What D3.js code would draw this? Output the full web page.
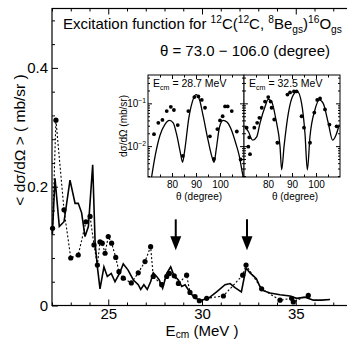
<!DOCTYPE html>
<html>
<head>
<meta charset="utf-8">
<script src="https://cdn.jsdelivr.net/npm/d3@7/dist/d3.min.js"></script>
<style>
  html, body { margin: 0; padding: 0; background: #fff; }
  svg { display: block; }
  text { font-family: "Liberation Sans", Arial, Helvetica, sans-serif; fill: #000; }
</style>
</head>
<body>
<svg id="chart" width="347" height="339"></svg>
<script>
// ---- Excitation function: calculated curve (solid) ----
const calcE = [22.02, 22.16, 22.39, 22.64, 22.96, 23.23, 23.4, 23.58, 23.76, 23.94, 24.17, 24.3, 24.42, 24.56,
  24.77, 24.95, 25.16, 25.36, 25.6, 25.8, 26.05, 26.34, 26.6, 26.73, 26.9, 27.08, 27.26, 27.4, 27.58, 27.72,
  27.9, 28.12, 28.33, 28.5, 28.74, 28.92, 29.1, 29.36, 29.63, 29.98, 30.34, 30.78, 31.23, 31.5, 31.76, 32.1,
  32.35, 32.56, 32.77, 32.9, 33.09, 33.27, 33.63, 34.16, 34.69, 35.05, 35.5, 35.94, 36.38, 36.83];
const calcV = [0.12, 0.214, 0.133, 0.141, 0.211, 0.172, 0.172, 0.156, 0.116, 0.133, 0.237, 0.105, 0.065, 0.028,
  0.065, 0.049, 0.054, 0.040, 0.054, 0.070, 0.060, 0.043, 0.035, 0.027, 0.035, 0.027, 0.040, 0.055, 0.049, 0.043,
  0.029, 0.054, 0.065, 0.051, 0.043, 0.032, 0.035, 0.022, 0.012, 0.009, 0.012, 0.023, 0.035, 0.037, 0.030, 0.023,
  0.063, 0.055, 0.049, 0.045, 0.032, 0.025, 0.021, 0.018, 0.016, 0.012, 0.014, 0.009, 0.009, 0.010];

// ---- Excitation function: measured points (dotted) ----
const expE = [22.03, 22.21, 22.64, 23.0, 23.4, 23.81, 24.03, 24.24, 24.42, 24.56, 24.68, 24.83, 25.0, 25.18,
  25.4, 25.57, 25.8, 26.23, 26.6, 26.96, 27.26, 27.4, 27.85, 28.12, 28.26, 28.52, 28.74, 29.18, 29.36, 29.63,
  29.86, 30.25, 31.14, 32.17, 32.35, 33.18, 34.16, 34.78, 34.87, 35.67];
const expV = [0.13, 0.312, 0.161, 0.08, 0.085, 0.141, 0.15, 0.102, 0.068, 0.107, 0.105, 0.088, 0.116, 0.105,
  0.081, 0.057, 0.046, 0.038, 0.055, 0.074, 0.099, 0.049, 0.035, 0.049, 0.054, 0.05, 0.037, 0.051, 0.022, 0.015,
  0.008, 0.012, 0.016, 0.051, 0.068, 0.028, 0.009, 0.012, 0.006, 0.017];

// Energies marked with arrows (angular distributions shown in the inset)
const markE = [28.6, 32.4];

// Axis ticks
const xMajor = [25, 30, 35];
const yMajor = [0, 0.2, 0.4];

// ---- Angular distributions (inset) ----
const panelLabels = ["28.7", "32.5"];
const angTicks = [80, 90, 100];

const fit1T = [71.5, 73, 75, 77, 79, 80.5, 82, 83.5, 84.4, 85.3, 87, 88.5, 90, 91.5, 93, 95, 96.5, 97.5, 98.5,
  99.8, 101.3, 103, 105, 106.5, 108, 109, 109.8];
const fit1S = [0.0019, 0.006, 0.018, 0.032, 0.04, 0.035, 0.018, 0.007, 0.0042, 0.008, 0.045, 0.11, 0.16, 0.12,
  0.05, 0.014, 0.006, 0.0042, 0.009, 0.028, 0.04, 0.036, 0.022, 0.012, 0.006, 0.003, 0.0017];
const dat1T = [72.5, 74.3, 76, 77.8, 79.5, 80.8, 82.4, 84.5, 86.8, 89.3, 91, 92.4, 93.75, 95.8, 97.5, 98.9, 100,
  101.1, 102.1, 103.2, 104.9, 107, 108.6];
const dat1S = [0.019, 0.035, 0.041, 0.066, 0.083, 0.07, 0.031, 0.0059, 0.066, 0.14, 0.145, 0.12, 0.079, 0.017,
  0.005, 0.025, 0.04, 0.05, 0.085, 0.085, 0.066, 0.022, 0.0049];

const fit2T = [70.4, 71.8, 73.6, 75.3, 76.7, 78.75, 80.1, 81.5, 83.3, 85, 85.7, 86.7, 88.5, 90.6, 92.2, 94, 95.4,
  96.4, 97.5, 99.6, 101.4, 103, 105.1, 106.9, 108.3, 109.7];
const fit2S = [0.028, 0.022, 0.0138, 0.0165, 0.035, 0.083, 0.124, 0.11, 0.042, 0.01, 0.0028, 0.01, 0.06, 0.16,
  0.19, 0.1, 0.02, 0.0028, 0.017, 0.072, 0.12, 0.1, 0.035, 0.0138, 0.018, 0.032];
const dat2T = [71.1, 71.8, 72.2, 72.5, 74.3, 75.5, 76.4, 77.4, 78.75, 80.1, 81.1, 81.5, 82.6, 83.9, 88.1, 89.2,
  90.8, 91.9, 94, 95, 97.5, 99.3, 100.5, 101.7, 103.75, 105.6, 108.6];
const dat2S = [0.027, 0.0097, 0.016, 0.0065, 0.027, 0.035, 0.046, 0.079, 0.11, 0.14, 0.11, 0.079, 0.042, 0.012,
  0.16, 0.18, 0.19, 0.19, 0.05, 0.027, 0.012, 0.061, 0.12, 0.13, 0.072, 0.032, 0.029];

const svg = d3.select("#chart");

// ---------- main frame ----------
const x = d3.scaleLinear().domain([22, 38]).range([52, 352]);
const y = d3.scaleLinear().domain([0, 0.5]).range([305.5, 8.5]);

const xMinor = d3.range(22, 39, 1).filter(v => !xMajor.includes(v));
const yMinor = d3.range(0, 0.5001, 0.04).filter(v => !yMajor.some(m => Math.abs(m - v) < 1e-6));

function tickGroup(g) {
  g.selectAll(".domain").remove();
  g.selectAll("line").attr("stroke", "#000").attr("stroke-width", 1);
}

// Bottom axis (ticks point inward)
const gx = svg.append("g").attr("transform", `translate(0,${y(0)})`)
  .call(d3.axisBottom(x).tickValues(xMajor).tickSizeInner(-6).tickSizeOuter(0).tickPadding(2.5)
    .tickFormat(d3.format("d")));
tickGroup(gx);
gx.selectAll("text").attr("font-size", 15);
svg.append("g").attr("transform", `translate(0,${y(0)})`)
  .call(d3.axisBottom(x).tickValues(xMinor).tickSizeInner(-3).tickSizeOuter(0).tickFormat(""))
  .call(tickGroup);

// Top axis
svg.append("g").attr("transform", `translate(0,${y(0.5)})`)
  .call(d3.axisTop(x).tickValues(xMajor).tickSizeInner(-6).tickSizeOuter(0).tickFormat(""))
  .call(tickGroup);
svg.append("g").attr("transform", `translate(0,${y(0.5)})`)
  .call(d3.axisTop(x).tickValues(xMinor).tickSizeInner(-3).tickSizeOuter(0).tickFormat(""))
  .call(tickGroup);

// Left axis
const gy = svg.append("g").attr("transform", `translate(${x(22)},0)`)
  .call(d3.axisLeft(y).tickValues(yMajor).tickSizeInner(-6).tickSizeOuter(0).tickPadding(4)
    .tickFormat(d => d === 0 ? "0" : d3.format(".1f")(d)));
tickGroup(gy);
gy.selectAll("text").attr("font-size", 15);
svg.append("g").attr("transform", `translate(${x(22)},0)`)
  .call(d3.axisLeft(y).tickValues(yMinor).tickSizeInner(-3).tickSizeOuter(0).tickFormat(""))
  .call(tickGroup);

// Frame
svg.append("rect")
  .attr("x", x(22)).attr("y", y(0.5))
  .attr("width", x(38) - x(22)).attr("height", y(0) - y(0.5))
  .attr("fill", "none").attr("stroke", "#000").attr("stroke-width", 1.2);

// ---------- series ----------
const calc = calcE.map((e, i) => [e, calcV[i]]);
const meas = expE.map((e, i) => [e, expV[i]]);

const line = d3.line().x(d => x(d[0])).y(d => y(d[1]));

svg.append("path").datum(meas)
  .attr("d", line).attr("fill", "none")
  .attr("stroke", "#000").attr("stroke-width", 1.1).attr("stroke-dasharray", "2,2");

svg.append("path").datum(calc)
  .attr("d", line).attr("fill", "none")
  .attr("stroke", "#000").attr("stroke-width", 1.6).attr("stroke-linejoin", "miter");

svg.append("g").selectAll("circle").data(meas).join("circle")
  .attr("cx", d => x(d[0])).attr("cy", d => y(d[1])).attr("r", 2.6).attr("fill", "#000");

// Arrows
const arrows = svg.append("g");
markE.forEach(e => {
  const ax = x(e), y0 = y(0.145), yTip = y(0.093);
  arrows.append("line").attr("x1", ax).attr("x2", ax).attr("y1", y0).attr("y2", yTip - 12)
    .attr("stroke", "#000").attr("stroke-width", 2);
  arrows.append("path")
    .attr("d", `M${ax - 5.5},${yTip - 14}L${ax + 5.5},${yTip - 14}L${ax},${yTip}Z`)
    .attr("fill", "#000");
});

// ---------- text helpers ----------
function richText(parent, segs, fs, subShift = 0.25) {
  const off = k => k === "sup" ? -fs * 0.4 : k === "sub" ? fs * subShift : 0;
  let state = null;
  segs.forEach(([t, k]) => {
    const ts = parent.append("tspan").text(t);
    const dy = off(k) - off(state);
    if (dy !== 0) ts.attr("dy", dy);
    ts.attr("font-size", k ? fs * 0.68 : fs);
    state = k;
  });
}

// Title
const title = svg.append("text").attr("x", 63).attr("y", 29);
richText(title, [["Excitation function for "], ["12", "sup"], ["C("], ["12", "sup"], ["C, "], ["8", "sup"],
  ["Be"], ["gs", "sub"], [")"], ["16", "sup"], ["O"], ["gs", "sub"]], 15);

svg.append("text").attr("x", 245).attr("y", 56).attr("text-anchor", "middle").attr("font-size", 15)
  .text("θ = 73.0 − 106.0 (degree)");

// Axis titles
const xt = svg.append("text").attr("x", 202).attr("y", 335.5).attr("text-anchor", "middle");
richText(xt, [["E"], ["cm", "sub"], [" (MeV )"]], 15, 0.17);

svg.append("text").attr("transform", "translate(25,140) rotate(-90)")
  .attr("text-anchor", "middle").attr("font-size", 15.5)
  .text("< dσ/dΩ > ( mb/sr )");

// ---------- inset ----------
const insetTop = 75, insetBot = 177;
const panels = [
  { x0: 148, x1: 244, label: panelLabels[0], fT: fit1T, fS: fit1S, dT: dat1T, dS: dat1S },
  { x0: 244, x1: 340, label: panelLabels[1], fT: fit2T, fS: fit2S, dT: dat2T, dS: dat2S }
];
const yI = d3.scaleLog().domain([0.0019, 0.46]).range([insetBot, insetTop]);
const logMinor = [];
[0.001, 0.01, 0.1].forEach(dec => { for (let k = 2; k <= 9; k++) { const v = dec * k; if (v > 0.0019 && v < 0.46) logMinor.push(v); } });
const logMajor = [0.01, 0.1];

const defs = svg.append("defs");

panels.forEach((p, i) => {
  const xs = d3.scaleLinear().domain([70, 110]).range([p.x0, p.x1]);
  const g = svg.append("g");
  g.append("rect").attr("x", p.x0).attr("y", insetTop).attr("width", p.x1 - p.x0).attr("height", insetBot - insetTop)
    .attr("fill", "#fff");

  defs.append("clipPath").attr("id", "clip" + i).append("rect")
    .attr("x", p.x0).attr("y", insetTop).attr("width", p.x1 - p.x0).attr("height", insetBot - insetTop);

  const fit = p.fT.map((t, j) => [t, p.fS[j]]);
  const dat = p.dT.map((t, j) => [t, p.dS[j]]);
  g.append("path").datum(fit).attr("clip-path", `url(#clip${i})`)
    .attr("d", d3.line().x(d => xs(d[0])).y(d => yI(d[1])).curve(d3.curveMonotoneX))
    .attr("fill", "none").attr("stroke", "#000").attr("stroke-width", 1.3);
  g.selectAll("circle").data(dat).join("circle")
    .attr("cx", d => xs(d[0])).attr("cy", d => yI(d[1])).attr("r", 1.9).attr("fill", "#000");

  // ticks: bottom/top
  const tx = g.append("g").attr("transform", `translate(0,${insetBot})`)
    .call(d3.axisBottom(xs).tickValues(angTicks).tickSizeInner(-4).tickSizeOuter(0).tickPadding(4));
  tickGroup(tx);
  tx.selectAll("text").attr("font-size", 10);
  g.append("g").attr("transform", `translate(0,${insetBot})`)
    .call(d3.axisBottom(xs).tickValues([75, 85, 95, 105]).tickSizeInner(-2.5).tickSizeOuter(0).tickFormat(""))
    .call(tickGroup);
  g.append("g").attr("transform", `translate(0,${insetTop})`)
    .call(d3.axisTop(xs).tickValues(angTicks).tickSizeInner(-4).tickSizeOuter(0).tickFormat(""))
    .call(tickGroup);
  g.append("g").attr("transform", `translate(0,${insetTop})`)
    .call(d3.axisTop(xs).tickValues([75, 85, 95, 105]).tickSizeInner(-2.5).tickSizeOuter(0).tickFormat(""))
    .call(tickGroup);
  // ticks: left/right
  [[p.x0, d3.axisLeft], [p.x1, d3.axisRight]].forEach(([px, axf]) => {
    g.append("g").attr("transform", `translate(${px},0)`)
      .call(axf(yI).tickValues(logMajor).tickSizeInner(-4).tickSizeOuter(0).tickFormat(""))
      .call(tickGroup);
    g.append("g").attr("transform", `translate(${px},0)`)
      .call(axf(yI).tickValues(logMinor).tickSizeInner(-2).tickSizeOuter(0).tickFormat(""))
      .call(tickGroup);
  });

  g.append("rect").attr("x", p.x0).attr("y", insetTop).attr("width", p.x1 - p.x0).attr("height", insetBot - insetTop)
    .attr("fill", "none").attr("stroke", "#000").attr("stroke-width", 1);

  const lab = g.append("text").attr("x", p.x0 + 5).attr("y", insetTop + 12);
  richText(lab, [["E"], ["cm", "sub"], [" = " + p.label + " MeV"]], 10.5);

  g.append("text").attr("x", (p.x0 + p.x1) / 2 + 3).attr("y", insetBot + 23).attr("text-anchor", "middle")
    .attr("font-size", 10).text("θ  (degree)");
});

// inset y tick labels
logMajor.forEach((v, i) => {
  const t = svg.append("text").attr("x", 146).attr("y", yI(v) + 4).attr("text-anchor", "end");
  richText(t, [["10"], ["−" + (i === 0 ? 2 : 1), "sup"]], 10);
});
svg.append("text").attr("transform", `translate(127,${(insetTop + insetBot) / 2}) rotate(-90)`)
  .attr("text-anchor", "middle").attr("font-size", 10).text("dσ/dΩ (mb/sr)");
</script>
</body>
</html>
